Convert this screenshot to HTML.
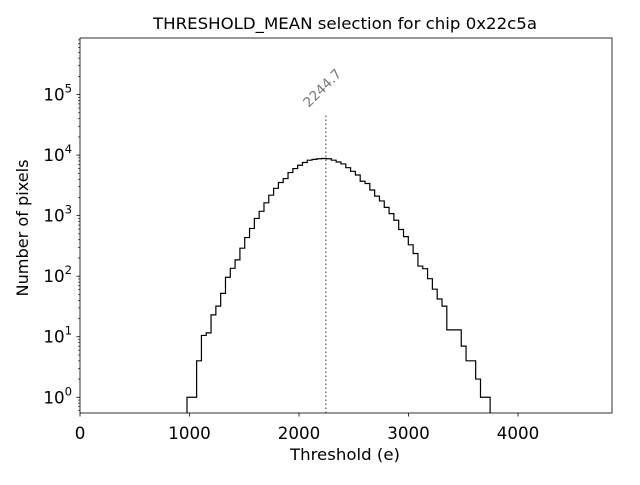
<!DOCTYPE html>
<html><head><meta charset="utf-8"><style>
body{margin:0;background:#fff}
svg text{font-family:"DejaVu Sans","Liberation Sans",sans-serif}
</style></head><body>
<svg id="chart" width="640" height="480" viewBox="0 0 640 480" xmlns="http://www.w3.org/2000/svg">
<text x="345" y="29" font-size="16" text-anchor="middle" textLength="384" lengthAdjust="spacingAndGlyphs">THRESHOLD_MEAN selection for chip 0x22c5a</text>
<g id="plot"></g>
<rect x="80" y="38" width="532" height="375" fill="none" stroke="#000" stroke-width="0.8"/>
<text x="345" y="460" font-size="16" text-anchor="middle" textLength="110" lengthAdjust="spacingAndGlyphs">Threshold (e)</text>
<text x="28" y="228" font-size="16" text-anchor="middle" textLength="137" lengthAdjust="spacingAndGlyphs" transform="rotate(-90 28 228)">Number of pixels</text>
</svg>
<script>
const binStart = 977;
const binEnd = 3745;
const counts = [1,1,4,10.5,11.6,23,32,52,96,135,186,290,435,615,900,1180,1630,2180,2830,3530,4100,5150,6000,6800,7550,8250,8500,8700,8800,8700,8250,7700,7150,6200,5400,4700,3700,3400,2650,2100,1750,1370,1080,840,590,450,330,237,147,133,91,61,42,32,13,13,13,7,4,4,2,1,1];
const xTicks = [0,1000,2000,3000,4000];
const xTickLabels = ["0","1000","2000","3000","4000"];
const yTicks = [0,1,2,3,4,5];
const meanValue = 2244.7;
const meanLineTop = 46000;

const L=80,R=612,T=38,B=413, XMAX=4858, LMIN=Math.log10(0.55), LMAX=Math.log10(8.6e5);
const xs=v=>L+(v/XMAX)*(R-L);
const ys=v=>B-(Math.log10(v)-LMIN)/(LMAX-LMIN)*(B-T);
const NS='http://www.w3.org/2000/svg';
const svg=document.getElementById('chart');
const plot=document.getElementById('plot');
function mk(t,a,p){const e=document.createElementNS(NS,t);for(const k in a)e.setAttribute(k,a[k]);(p||svg).appendChild(e);return e;}
const w=(binEnd-binStart)/counts.length;
let d='M'+xs(binStart)+','+B;
counts.forEach((c,i)=>{const x0=xs(binStart+i*w),x1=xs(binStart+(i+1)*w),y=ys(c);d+=' L'+x0+','+y+' L'+x1+','+y;});
d+=' L'+xs(binEnd)+','+B;
const hist=mk('path',{d:d,fill:'none',stroke:'#000','stroke-width':1.2},plot);


const ml=mk('line',{x1:xs(meanValue),x2:xs(meanValue),y1:B,y2:ys(meanLineTop),stroke:'#777','stroke-width':1.5,'stroke-dasharray':'1.5,2.5'},plot);


const ax=xs(meanValue)-17, ay=ys(meanLineTop)-7;
const mt=mk('text',{x:ax,y:ay,'font-size':13.5,fill:'#777',transform:'rotate(-45 '+ax+' '+ay+')'},plot);
mt.textContent=meanValue.toFixed(1);


xTicks.forEach((v,i)=>{const x=xs(v);
 const t=mk('line',{x1:x,x2:x,y1:B,y2:B+3.5,stroke:'#000','stroke-width':0.8});
 
 
 const l=mk('text',{x:x,y:B+26,'font-size':16.7,'text-anchor':'middle'});l.textContent=xTickLabels[i];
 
 
});
yTicks.forEach(p=>{const y=ys(Math.pow(10,p));
 const t=mk('line',{x1:L-3.5,x2:L,y1:y,y2:y,stroke:'#000','stroke-width':0.8});
 
 
 const l=mk('text',{x:L-8,y:y+6,'font-size':16.7,'text-anchor':'end'});
 l.innerHTML='10<tspan dy="-8" font-size="11.7">'+p+'</tspan>';
 
 
});
for(let p=-1;p<=5;p++)for(let m=2;m<=9;m++){const v=m*Math.pow(10,p);const y=ys(v);if(y<T||y>B)continue;
 const t=mk('line',{x1:L-2,x2:L,y1:y,y2:y,stroke:'#000','stroke-width':0.6});
 
 
}
</script>
</body></html>
